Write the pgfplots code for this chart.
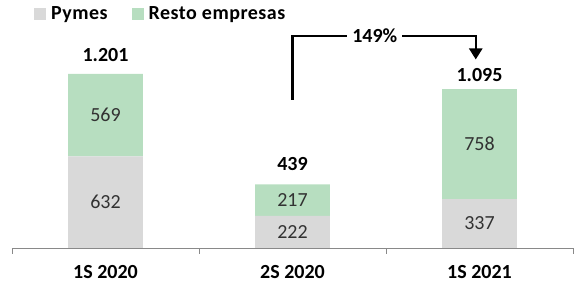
\documentclass[border=0pt]{standalone}
\usepackage{pgfplots}
\pgfplotsset{compat=1.18}
\usepackage{fontspec}
\setmainfont{Carlito}
\usetikzlibrary{arrows.meta}
\definecolor{pgray}{RGB}{217,217,217}
\definecolor{pgreen}{RGB}{183,222,192}
\definecolor{axgray}{RGB}{137,137,137}
\definecolor{lblgray}{RGB}{50,50,50}
\newcommand{\bigf}{\fontsize{20}{23}\selectfont}
\begin{document}
\begin{tikzpicture}[font=\bigf]
\path[use as bounding box] (0,0) rectangle (575pt,286pt);
\begin{axis}[
 at={(12pt,38pt)}, anchor=south west, scale only axis, width=561pt, height=248pt,
 ybar stacked, bar width=0.4,
 xmin=-0.5, xmax=2.5, ymin=0, ymax=1710,
 axis y line=none, axis x line*=bottom,
 x axis line style={draw=axgray, line width=0.8pt, -},
 xtick={0,1,2}, xticklabels={1S 2020,2S 2020,1S 2021},
 major x tick style={draw=none},
 minor xtick={-0.5,0.5,1.5,2.5},
 minor tick length=6pt, tick align=outside,
 minor x tick style={draw=axgray, line width=0.8pt},
 xticklabel style={font=\bigf\bfseries, yshift=-10pt},
 clip=false,
 legend columns=2,
 legend cell align=left,
 legend image code/.code={\fill[#1] (0pt,-6pt) rectangle (12pt,6pt); \path (15pt,0pt);},
 legend style={draw=none, fill=none, at={(0.039,0.944)}, anchor=west, inner sep=0pt,
   font=\bigf\bfseries\addfontfeatures{LetterSpace=2.5},
   /tikz/every even column/.append style={column sep=22pt}},
]
\addplot[fill=pgray, draw=none] coordinates {(0,632) (1,222) (2,337)};
\addlegendentry{Pymes}
\addplot[fill=pgreen, draw=none] coordinates {(0,569) (1,217) (2,758)};
\addlegendentry{Resto empresas}

\coordinate (a1) at (axis cs:0,316);
\coordinate (a2) at (axis cs:0,916.5);
\coordinate (b1) at (axis cs:1,111);
\coordinate (b2) at (axis cs:1,330.5);
\coordinate (c1) at (axis cs:2,168.5);
\coordinate (c2) at (axis cs:2,716);
\coordinate (ta) at (axis cs:0,1201);
\coordinate (tb) at (axis cs:1,439);
\coordinate (tc) at (axis cs:2,1095);
\coordinate (r0) at (axis cs:1,1021);
\coordinate (r1) at (axis cs:1.98,1462);
\coordinate (r2) at (axis cs:1.98,1300);
\coordinate (rl) at (axis cs:1.44,1462);
\end{axis}
\node[text=lblgray] at (a1) {632};
\node[text=lblgray] at (a2) {569};
\node[text=lblgray] at (b1) {222};
\node[text=lblgray] at (b2) {217};
\node[text=lblgray] at (c1) {337};
\node[text=lblgray] at (c2) {758};
\node[font=\bigf\bfseries, yshift=19pt] at (ta) {1.201};
\node[font=\bigf\bfseries, yshift=20pt] at (tb) {439};
\node[font=\bigf\bfseries, yshift=14pt] at (tc) {1.095};
\draw[line width=2.5pt, line join=miter, -{Triangle[width=13pt,length=11pt]}]
  (r0) |- (r1) -- (r2);
\node[fill=white, inner sep=5pt, font=\bigf\bfseries] at (rl) {149\%};
\end{tikzpicture}
\end{document}
